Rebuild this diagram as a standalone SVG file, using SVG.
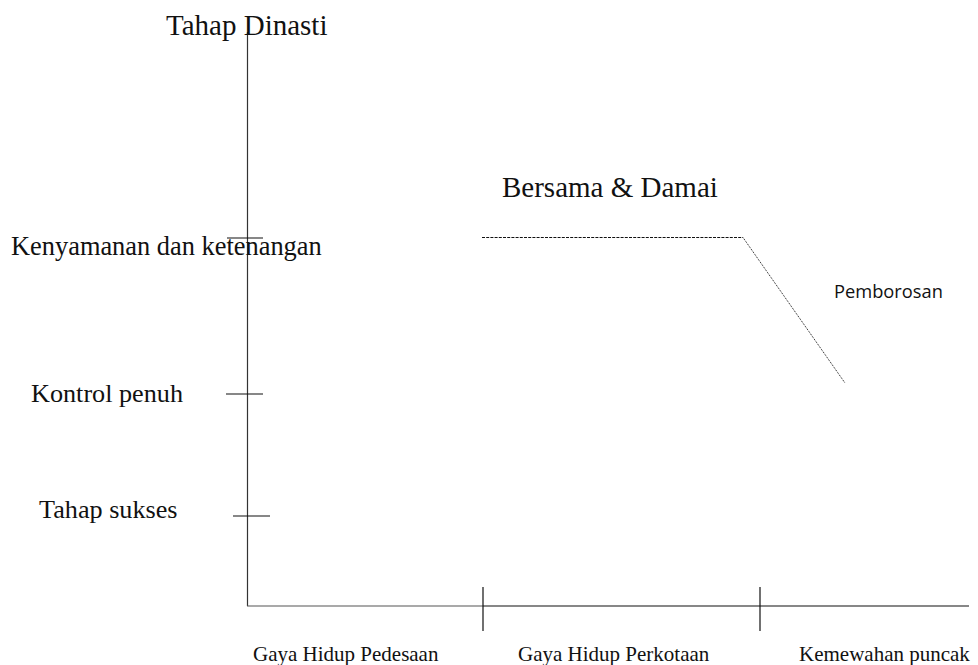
<svg xmlns="http://www.w3.org/2000/svg" width="978" height="665" viewBox="0 0 978 665">
<style>
.serif{font-family:"Liberation Serif","Times New Roman",serif;fill:#111}
.sans{font-family:"Open Sans","Noto Sans",sans-serif;fill:#111}
.axis{stroke:#333;stroke-width:1.2;fill:none}
.tick{stroke:#111;stroke-width:1.2;fill:none}
</style>
<rect width="978" height="665" fill="#fff"/>
<g id="axes">
<line class="axis" x1="247.5" y1="32" x2="247.5" y2="606"/>
<line x1="247" y1="606" x2="483" y2="606" stroke="#555" stroke-width="1.2"/>
<line class="tick" x1="483" y1="606" x2="969" y2="606"/>
<line class="tick" x1="227" y1="238" x2="263" y2="238"/>
<line class="tick" x1="226" y1="394" x2="263" y2="394"/>
<line class="tick" x1="233" y1="516" x2="270" y2="516"/>
<line class="tick" x1="483" y1="587" x2="483" y2="631"/>
<line class="tick" x1="760" y1="587" x2="760" y2="631"/>
</g>
<g id="connectors">
<line x1="482" y1="237.5" x2="743" y2="237.5" stroke="#111" stroke-width="1" stroke-dasharray="3,1.2"/>
<line x1="743" y1="237.5" x2="845" y2="383" stroke="#111" stroke-width="1" stroke-dasharray="1,1"/>
</g>
<g id="labels">
<text class="serif" x="166" y="35" font-size="29">Tahap Dinasti</text>
<text class="serif" x="11" y="255" font-size="26.4">Kenyamanan dan ketenangan</text>
<text class="serif" x="31" y="402" font-size="26.2">Kontrol penuh</text>
<text class="serif" x="39" y="518" font-size="26.2">Tahap sukses</text>
<text class="serif" x="502" y="197" font-size="29">Bersama &amp; Damai</text>
<text class="sans" x="834" y="298" font-size="18.3">Pemborosan</text>
<text class="serif" x="253" y="661" font-size="21">Gaya Hidup Pedesaan</text>
<text class="serif" x="518" y="661" font-size="21">Gaya Hidup Perkotaan</text>
<text class="serif" x="799" y="661" font-size="21">Kemewahan puncak</text>
</g>
</svg>
